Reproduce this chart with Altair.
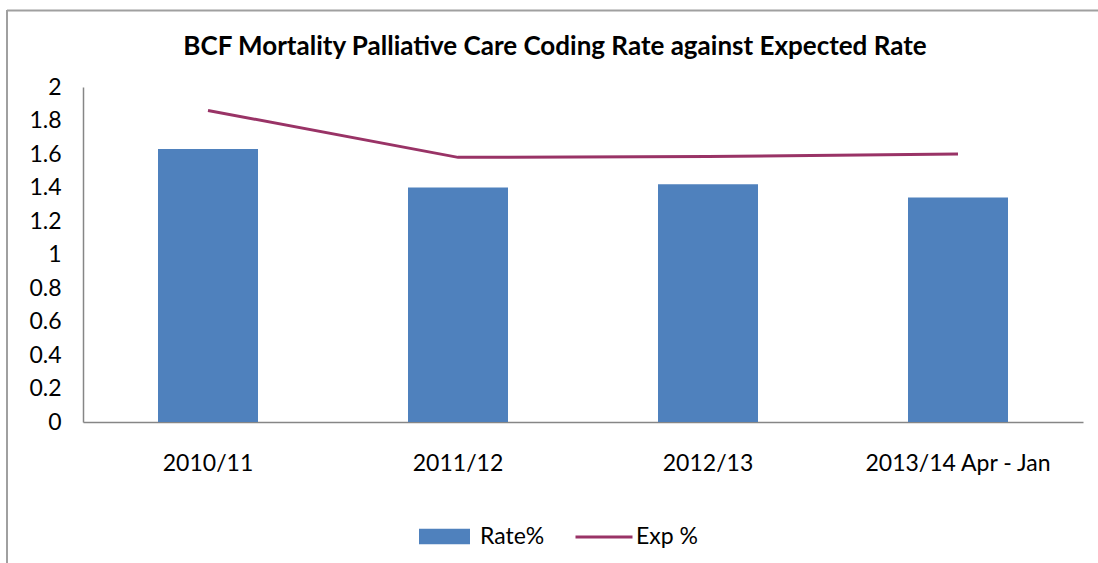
import altair as alt
import pandas as pd

# Yearly palliative care coding rate vs. expected rate
periods = ["2010/11", "2011/12", "2012/13", "2013/14 Apr - Jan"]
rate_pct = [1.63, 1.40, 1.42, 1.34]
exp_pct = [1.86, 1.58, 1.585, 1.60]
y_ticks = [0, 0.2, 0.4, 0.6, 0.8, 1, 1.2, 1.4, 1.6, 1.8, 2]

df = pd.DataFrame({
    "period": periods,
    "rate": rate_pct,
    "exp": exp_pct,
    "rate_name": ["Rate%"] * len(periods),
    "exp_name": ["Exp %"] * len(periods),
})

FONT = "Lato"
BAR_COLOR = "#4F81BD"
LINE_COLOR = "#993366"
LABEL_SIZE = 23

x_axis = alt.Axis(
    labelAngle=0, labelFont=FONT, labelFontSize=LABEL_SIZE, labelColor="#000000",
    labelPadding=30, ticks=False, domainColor="#868686", domainWidth=1.5,
    grid=False, labelLimit=400,
)
y_axis = alt.Axis(
    values=y_ticks, format="~g", labelFont=FONT, labelFontSize=LABEL_SIZE,
    labelColor="#000000", labelPadding=22, ticks=False, grid=False,
    labelOverlap=False, labelFlush=False,
    domainColor="#868686", domainWidth=1.5,
)
x_scale = alt.Scale(paddingInner=0.6, paddingOuter=0.3)
y_scale = alt.Scale(domain=[0, 2], nice=False)

base = alt.Chart(df)

bars = base.mark_bar(color=BAR_COLOR).encode(
    x=alt.X("period:N", sort=periods, title=None, scale=x_scale, axis=x_axis),
    y=alt.Y("rate:Q", title=None, scale=y_scale, axis=y_axis),
    fill=alt.Fill(
        "rate_name:N",
        scale=alt.Scale(domain=["Rate%"], range=[BAR_COLOR]),
        legend=alt.Legend(
            title=None, orient="none", legendX=336, legendY=424,
            symbolType="M-1,-0.3H1V0.3H-1Z", symbolSize=2601,
            symbolStrokeWidth=0, labelFont=FONT, labelFontSize=LABEL_SIZE,
            labelColor="#000000", labelOffset=10, padding=0,
        ),
    ),
)

line = base.mark_line(color=LINE_COLOR, strokeWidth=3).encode(
    x=alt.X("period:N", sort=periods, title=None, scale=x_scale, axis=x_axis),
    y=alt.Y("exp:Q", title=None, scale=y_scale, axis=y_axis),
    stroke=alt.Stroke(
        "exp_name:N",
        scale=alt.Scale(domain=["Exp %"], range=[LINE_COLOR]),
        legend=alt.Legend(
            title=None, orient="none", legendX=491, legendY=420,
            symbolType="stroke", symbolSize=3249, symbolStrokeWidth=3,
            labelFont=FONT, labelFontSize=LABEL_SIZE, labelColor="#000000",
            labelOffset=2, padding=0,
        ),
    ),
)

# Outer frame of the chart (top and left edges)
frame_src = alt.Chart(alt.Data(values=[{}]))
frame_top = frame_src.mark_rule(color="#A0A0A0", strokeWidth=2).encode(
    x=alt.value(-76), x2=alt.value(1030), y=alt.value(-76.5)
)
frame_left = frame_src.mark_rule(color="#A0A0A0", strokeWidth=2).encode(
    x=alt.value(-76), y=alt.value(-77), y2=alt.value(500)
)

chart = alt.layer(bars, line, frame_top, frame_left).resolve_scale(
    fill="independent", stroke="independent"
).properties(
    width=1000,
    height=335,
    title=alt.TitleParams(
        "BCF Mortality Palliative Care Coding Rate against Expected Rate",
        font=FONT, fontSize=26, fontWeight="bold", color="#000000",
        anchor="middle", frame="group", dx=-28, dy=81, offset=30,
    ),
    autosize=alt.AutoSizeParams(type="none"),
    padding={"left": 83, "top": 87, "right": 15, "bottom": 141},
    background="#FFFFFF",
).configure_view(stroke=None).configure_axisY(labelOverlap=False)

chart.save("out.html", embed_options={"renderer": "svg", "actions": False})
